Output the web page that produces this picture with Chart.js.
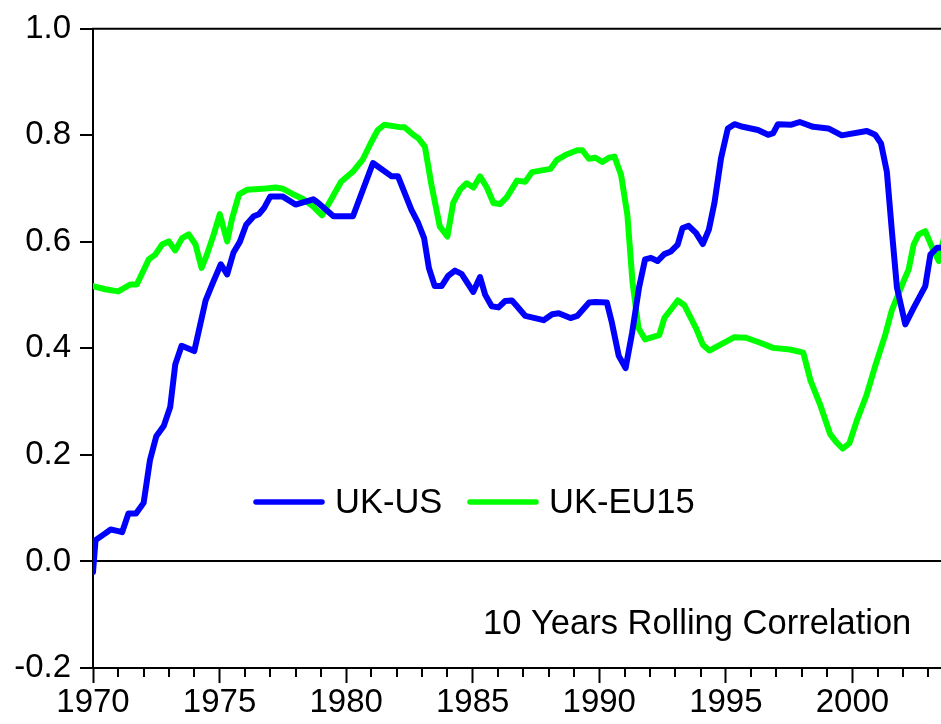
<!DOCTYPE html>
<html>
<head>
<meta charset="utf-8">
<script src="https://cdn.jsdelivr.net/npm/chart.js@4.4.1/dist/chart.umd.min.js"></script>
<style>
  body { margin: 0; background: #fff; }
  canvas { display: block; }
</style>
</head>
<body>
<canvas id="corrChart" width="941" height="724"></canvas>
<script>
// UK-US rolling correlation (year, value)
const usYears = [1970.0, 1970.1, 1970.4, 1970.7, 1971.0, 1971.15, 1971.4, 1971.7, 1972.0, 1972.25, 1972.5, 1972.8,
  1973.05, 1973.25, 1973.5, 1974.0, 1974.45, 1974.75, 1975.05, 1975.3, 1975.55, 1975.8, 1976.05, 1976.35, 1976.55,
  1976.75, 1977.0, 1977.5, 1978.0, 1978.7, 1978.9, 1979.5, 1980.27, 1981.06, 1981.8, 1982.05, 1982.58, 1982.85,
  1983.08, 1983.27, 1983.5, 1983.77, 1984.03, 1984.3, 1984.56, 1985.02, 1985.29, 1985.49, 1985.75, 1986.02, 1986.28,
  1986.55, 1986.75, 1987.08, 1987.8, 1988.14, 1988.4, 1988.86, 1989.13, 1989.6, 1989.85, 1990.3, 1990.5, 1990.77,
  1991.04, 1991.3, 1991.57, 1991.81, 1992.04, 1992.3, 1992.57, 1992.83, 1993.1, 1993.29, 1993.53, 1993.82, 1994.09,
  1994.33, 1994.55, 1994.81, 1995.08, 1995.34, 1995.67, 1996.27, 1996.67, 1996.87, 1997.06, 1997.59, 1997.92,
  1998.45, 1999.05, 1999.58, 2000.57, 2000.9, 2001.13, 2001.36, 2001.56, 2001.76, 2002.09, 2002.42, 2002.88,
  2003.08, 2003.35, 2003.6];
const usValues = [-0.02, 0.04, 0.05, 0.06, 0.057, 0.055, 0.09, 0.09, 0.11, 0.19, 0.235, 0.255,
  0.29, 0.37, 0.405, 0.395, 0.49, 0.525, 0.558, 0.539, 0.58, 0.6, 0.632, 0.648, 0.652,
  0.663, 0.685, 0.685, 0.67, 0.68, 0.673, 0.648, 0.648, 0.748, 0.723, 0.723, 0.66, 0.635,
  0.607, 0.551, 0.517, 0.517, 0.536, 0.546, 0.54, 0.506, 0.534, 0.501, 0.479, 0.477, 0.489,
  0.49, 0.479, 0.461, 0.453, 0.464, 0.466, 0.457, 0.461, 0.486, 0.487, 0.486, 0.448, 0.386,
  0.363, 0.43, 0.514, 0.567, 0.57, 0.564, 0.577, 0.582, 0.595, 0.626, 0.63, 0.617, 0.596,
  0.623, 0.673, 0.757, 0.813, 0.821, 0.816, 0.81, 0.801, 0.804, 0.821, 0.82, 0.825,
  0.816, 0.813, 0.8, 0.808, 0.801, 0.785, 0.732, 0.62, 0.514, 0.445, 0.476, 0.517,
  0.576, 0.589, 0.589];

// UK-EU15 rolling correlation (year, value)
const euYears = [1970.0, 1970.48, 1971.0, 1971.47, 1971.73, 1972.2, 1972.46, 1972.73, 1972.99, 1973.25, 1973.52,
  1973.78, 1974.05, 1974.29, 1974.5, 1974.77, 1975.01, 1975.3, 1975.5, 1975.77, 1976.1, 1976.83, 1977.22, 1977.49,
  1977.88, 1978.28, 1978.68, 1979.05, 1979.4, 1979.8, 1980.27, 1980.66, 1981.0, 1981.25, 1981.52, 1982.18, 1982.31,
  1982.65, 1982.84, 1983.11, 1983.37, 1983.7, 1984.0, 1984.23, 1984.5, 1984.76, 1985.03, 1985.29, 1985.56, 1985.82,
  1986.08, 1986.35, 1986.75, 1987.08, 1987.34, 1988.07, 1988.33, 1988.66, 1989.13, 1989.33, 1989.59, 1989.85,
  1990.12, 1990.38, 1990.6, 1990.86, 1991.11, 1991.31, 1991.55, 1991.81, 1992.1, 1992.37, 1992.57, 1992.83, 1993.1,
  1993.36, 1993.82, 1994.09, 1994.35, 1995.34, 1995.8, 1996.33, 1996.87, 1997.53, 1998.06, 1998.35, 1998.72,
  1999.12, 1999.38, 1999.62, 1999.88, 2000.17, 2000.57, 2000.9, 2001.3, 2001.56, 2002.02, 2002.22, 2002.42,
  2002.62, 2002.88, 2003.15, 2003.41, 2003.6];
const euValues = [0.517, 0.511, 0.507, 0.52, 0.52, 0.567, 0.576, 0.595, 0.601, 0.584, 0.607,
  0.614, 0.595, 0.551, 0.576, 0.614, 0.652, 0.601, 0.645, 0.689, 0.698, 0.7, 0.702, 0.7,
  0.69, 0.681, 0.667, 0.65, 0.679, 0.713, 0.732, 0.755, 0.788, 0.81, 0.82, 0.815, 0.815,
  0.801, 0.795, 0.779, 0.707, 0.629, 0.61, 0.673, 0.698, 0.71, 0.702, 0.723, 0.702, 0.673,
  0.671, 0.684, 0.715, 0.713, 0.731, 0.737, 0.754, 0.763, 0.772, 0.772, 0.756, 0.758,
  0.75, 0.758, 0.76, 0.726, 0.651, 0.526, 0.438, 0.417, 0.421, 0.425, 0.457, 0.473, 0.49,
  0.481, 0.438, 0.407, 0.396, 0.421, 0.42, 0.411, 0.401, 0.398, 0.392, 0.339, 0.295,
  0.239, 0.223, 0.212, 0.222, 0.264, 0.314, 0.367, 0.426, 0.472, 0.526, 0.548, 0.595,
  0.614, 0.62, 0.589, 0.564, 0.604];

const seriesLabels = ['UK-US', 'UK-EU15'];
const seriesColors = ['#0000ff', '#00ff00'];
const noteText = '10 Years Rolling Correlation';

const toPoints = (xs, ys) => xs.map((x, i) => ({ x: x, y: ys[i] }));

Chart.defaults.font.family = '"Liberation Sans", Arial, sans-serif';
Chart.defaults.font.size = 33;
Chart.defaults.color = '#000';

// minor year ticks, top frame, legend and note inside the plot
const extras = {
  id: 'extras',
  afterDraw(chart) {
    const ctx = chart.ctx;
    const area = chart.chartArea;
    const xs = chart.scales.x;
    ctx.save();
    ctx.strokeStyle = '#000';
    ctx.lineWidth = 2;
    ctx.beginPath();
    for (let yr = 1971; yr <= 2003; yr++) {
      if (yr % 5 === 0) continue;
      const px = Math.round(xs.getPixelForValue(yr));
      ctx.moveTo(px, area.bottom);
      ctx.lineTo(px, area.bottom + 9);
    }
    ctx.moveTo(area.left - 1, area.top);
    ctx.lineTo(area.right, area.top);
    ctx.stroke();

    // legend
    const legendX = [256, 470];
    ctx.lineCap = 'round';
    ctx.lineWidth = 5.5;
    ctx.font = '34.5px "Liberation Sans", Arial, sans-serif';
    ctx.textBaseline = 'alphabetic';
    ctx.fillStyle = '#000';
    chart.data.datasets.forEach((ds, i) => {
      ctx.strokeStyle = ds.borderColor;
      ctx.beginPath();
      ctx.moveTo(legendX[i], 502);
      ctx.lineTo(legendX[i] + 66, 502);
      ctx.stroke();
      ctx.fillText(ds.label, legendX[i] + 79, 513);
    });

    ctx.fillText(noteText, 483, 634);
    ctx.restore();
  }
};

new Chart(document.getElementById('corrChart'), {
  type: 'line',
  data: {
    datasets: [
      {
        label: seriesLabels[0],
        data: toPoints(usYears, usValues),
        borderColor: seriesColors[0],
        borderWidth: 6,
        pointRadius: 0,
        tension: 0,
        borderJoinStyle: 'round',
        borderCapStyle: 'round'
      },
      {
        label: seriesLabels[1],
        data: toPoints(euYears, euValues),
        borderColor: seriesColors[1],
        borderWidth: 6,
        pointRadius: 0,
        tension: 0,
        borderJoinStyle: 'round',
        borderCapStyle: 'round'
      }
    ]
  },
  options: {
    responsive: false,
    animation: false,
    devicePixelRatio: 1,
    layout: { padding: { top: 26, right: 0, left: 0, bottom: 0 } },
    plugins: {
      legend: { display: false },
      tooltip: { enabled: false }
    },
    scales: {
      x: {
        type: 'linear',
        min: 1970,
        max: 2003.5,
        afterFit(scale) { scale.height = 56; },
        border: { color: '#000', width: 2 },
        grid: { drawOnChartArea: false, tickLength: 15, tickColor: '#000', tickWidth: 2 },
        ticks: {
          stepSize: 5,
          includeBounds: false,
          padding: 0,
          maxRotation: 0,
          callback: (v) => String(v)
        }
      },
      y: {
        min: -0.2,
        max: 1.0,
        afterFit(scale) { scale.width = 93; },
        border: { color: '#000', width: 2 },
        grid: {
          color: (c) => (c.tick && Math.abs(c.tick.value) < 1e-9 ? '#000' : 'rgba(0,0,0,0)'),
          lineWidth: 2,
          tickLength: 13,
          tickColor: '#000',
          tickWidth: 2
        },
        ticks: {
          stepSize: 0.2,
          padding: 9,
          callback: (v) => (Math.abs(v) < 1e-9 ? '0.0' : v.toFixed(1))
        }
      }
    }
  },
  plugins: [extras]
});
</script>
</body>
</html>
